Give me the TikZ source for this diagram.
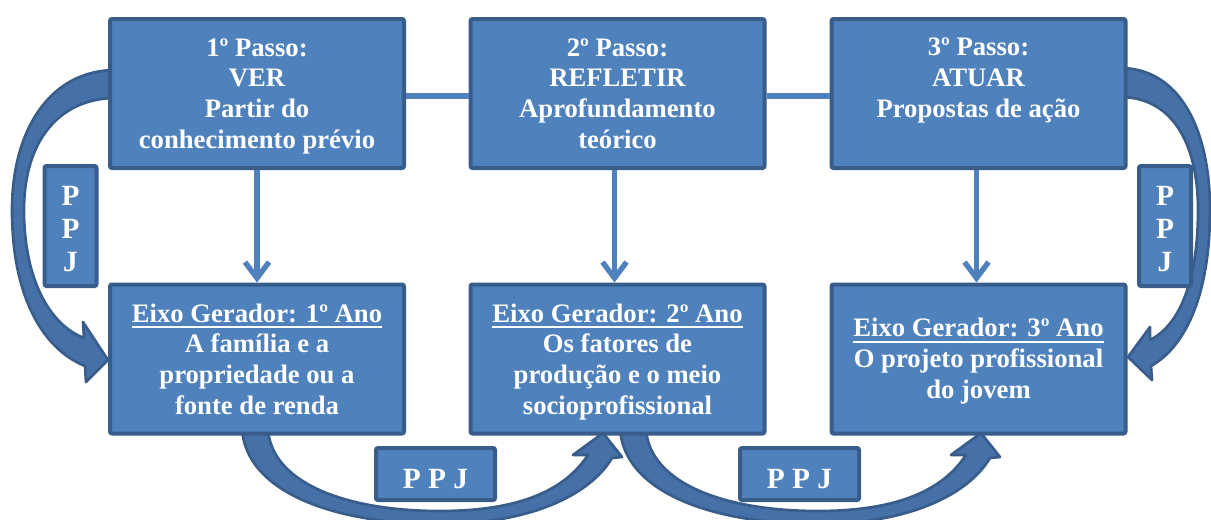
\documentclass[tikz,border=0pt]{standalone}
\usepackage{fontspec}
\setmainfont{Liberation Serif}
\usetikzlibrary{arrows.meta,calc}
\definecolor{boxfill}{HTML}{4F81BD}
\definecolor{boxline}{HTML}{385D8A}
\definecolor{bandfill}{HTML}{4571A8}
% heavier underline for the axis titles
\newcommand{\axisul}[1]{\setbox0\hbox{#1}\rlap{\rule[-4.7pt]{\wd0}{1.7pt}}\box0}
\begin{document}
\begin{tikzpicture}[x=0.75pt,y=-0.75pt,
  stepbox/.style={draw=boxline,fill=boxfill,line width=3pt,rounded corners=1.5pt,
    inner sep=0pt,minimum width=220.5pt,minimum height=111.75pt},
  ppjv/.style={draw=boxline,fill=boxfill,line width=3pt,rounded corners=1.5pt,
    inner sep=0pt,minimum width=39pt,minimum height=90pt},
  ppjh/.style={draw=boxline,fill=boxfill,line width=3pt,rounded corners=1.5pt,
    inner sep=0pt,minimum width=89.25pt,minimum height=39pt},
  % multi-line texts are placed by the baseline of their last line
  txt/.style={text=white,font=\fontsize{20}{23}\selectfont\bfseries,
    align=center,anchor=base,inner sep=0pt},
  ppjtxt/.style={text=white,font=\fontsize{22}{24.75}\selectfont\bfseries,
    align=center,anchor=base,inner sep=0pt},
  link/.style={draw=boxfill,line width=4pt},
  down/.style={link,-{Straight Barb[length=12pt,width=18pt]}},
  bandarrow/.style={draw=boxline,fill=bandfill,line width=2pt,line join=round}]
\useasboundingbox (0,0) rectangle (1211,519);
\clip (0,0) rectangle (1211,519);

% curved block arrows (behind the boxes)
\path[bandarrow] (116,70) .. controls (50,70) and (12,130) .. (12,210)
  .. controls (12,300) and (45,350) .. (85,366) -- (86,382) -- (108,360)
  -- (83,322) -- (84,338) .. controls (50,325) and (24,280) .. (24,210)
  .. controls (24,140) and (60,98) .. (116,98) -- cycle;
\path[bandarrow] (1120,68) .. controls (1180,68) and (1210,130) .. (1210,210)
  .. controls (1210,290) and (1188,345) .. (1151,366) -- (1152,380) -- (1128,357)
  -- (1150,327) -- (1150,340) .. controls (1180,325) and (1198,280) .. (1198,210)
  .. controls (1198,140) and (1170,97) .. (1120,97) -- cycle;
\foreach \dx in {0,378}{
  \path[bandarrow,xshift=\dx*0.75pt] (242,428) .. controls (245,490) and (330,524) .. (440,524)
    .. controls (530,524) and (590,495) .. (612,458) -- (622,457) -- (603,433)
    -- (573,455) -- (588,455) .. controls (565,490) and (520,511) .. (440,511)
    .. controls (340,511) and (270,480) .. (268,428) -- cycle;
}

% the three steps
\node[stepbox] (p1) at (257,93.5) {};
\node[stepbox] (p2) at (617.5,93.5) {};
\node[stepbox] (p3) at (978.5,93.5) {};
% the three generating axes
\node[stepbox] (e1) at (257,359) {};
\node[stepbox] (e2) at (617.5,359) {};
\node[stepbox] (e3) at (978.5,359) {};

\node[txt] (t1) at (257,148) {1º Passo:\\VER\\Partir do\\conhecimento prévio};
\node[txt] (t2) at (617.5,148) {2º Passo:\\REFLETIR\\Aprofundamento\\teórico};
\node[txt] (t3) at (978.5,117.3) {3º Passo:\\ATUAR\\Propostas de ação};
\node[txt] (t4) at (257,414) {\axisul{Eixo Gerador: 1º Ano}\\A família e a\\propriedade ou a\\fonte de renda};
\node[txt] (t5) at (617.5,414) {\axisul{Eixo Gerador: 2º Ano}\\Os fatores de\\produção e o meio\\socioprofissional};
\node[txt] (t6) at (978.5,398.3) {\axisul{Eixo Gerador: 3º Ano}\\O projeto profissional\\do jovem};

% PPJ labels
\node[ppjv] (q1) at (70.5,226) {};
\node[ppjv] (q2) at (1165,226) {};
\node[ppjh] (q3) at (435.5,474) {};
\node[ppjh] (q4) at (799.5,474) {};
\node[ppjtxt] (r1) at (70.5,271) {P\\P\\J};
\node[ppjtxt] (r2) at (1165,271) {P\\P\\J};
\node[ppjtxt] (r3) at (435.5,488) {P P J};
\node[ppjtxt] (r4) at (799.5,488) {P P J};

% connectors
\draw[link] ($(p1.east)+(0,2.5)$) -- ($(p2.west)+(0,2.5)$);
\draw[link] ($(p2.east)+(0,2.5)$) -- ($(p3.west)+(0,2.5)$);
\draw[down] (p1.south) -- (e1.north);
\draw[down] ($(p2.south)+(-3,0)$) -- ($(e2.north)+(-3,0)$);
\draw[down] ($(p3.south)+(-2,0)$) -- ($(e3.north)+(-2,0)$);
\end{tikzpicture}
\end{document}
